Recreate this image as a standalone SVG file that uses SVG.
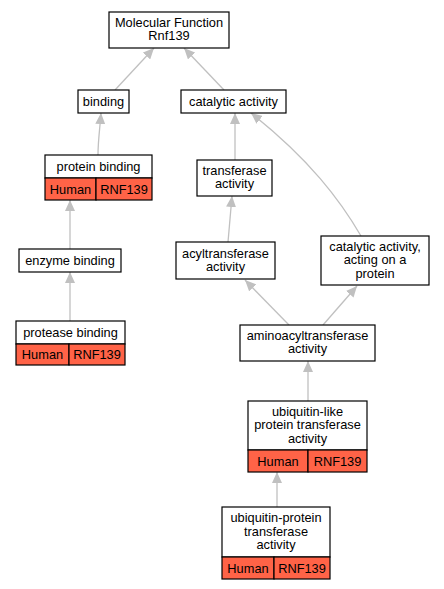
<svg xmlns="http://www.w3.org/2000/svg" width="444" height="589" viewBox="0 0 444 589">
<style>
.box{fill:#fff;stroke:#000;stroke-width:1.2}
.hit{fill:#ff6347;stroke:#000;stroke-width:1.2}
text{font-family:"Liberation Sans",Arial,sans-serif;font-size:12.8px;fill:#000;text-anchor:middle}
.edge{fill:none;stroke:#c0c0c0;stroke-width:1.3;marker-end:url(#ah)}
</style>
<defs>
<marker id="ah" markerUnits="userSpaceOnUse" markerWidth="11" markerHeight="10" refX="11" refY="5" orient="auto">
<path d="M0,0 L11,5 L0,10 z" fill="#c0c0c0"/>
</marker>
</defs>
<rect width="444" height="589" fill="#fff"/>
<g id="edges">
<path class="edge" d="M115,90 L154,48"/>
<path class="edge" d="M224,90 L184,48"/>
<path class="edge" d="M98,155 C98,140 100,128 101,113"/>
<path class="edge" d="M235,160 L235,113"/>
<path class="edge" d="M361,236 C340,200 310,160 251,113"/>
<path class="edge" d="M70,249 L70,200"/>
<path class="edge" d="M70,321 L70,272"/>
<path class="edge" d="M228,242 L232,196"/>
<path class="edge" d="M289,325 L245,280"/>
<path class="edge" d="M323,325 L357,286"/>
<path class="edge" d="M308,401 L308,361"/>
<path class="edge" d="M277,507 L277,472"/>
</g>
<g id="mf">
<rect class="box" x="109" y="12" width="120" height="36"/>
<text x="169" y="26.5">Molecular Function</text>
<text x="169" y="39.5">Rnf139</text>
</g>
<g id="binding">
<rect class="box" x="78" y="90" width="51" height="23"/>
<text x="103.5" y="106">binding</text>
</g>
<g id="catalytic">
<rect class="box" x="181" y="90" width="105" height="23"/>
<text x="233.5" y="106">catalytic activity</text>
</g>
<g id="protein_binding">
<rect class="box" x="45" y="155" width="107" height="23"/>
<text x="98.5" y="171">protein binding</text>
<rect class="hit" x="45" y="178" width="51" height="22"/>
<rect class="hit" x="96" y="178" width="56" height="22"/>
<text x="70.5" y="193.5">Human</text>
<text x="124" y="193.5">RNF139</text>
</g>
<g id="transferase">
<rect class="box" x="197" y="160" width="75" height="36"/>
<text x="234.5" y="175">transferase</text>
<text x="234.5" y="188">activity</text>
</g>
<g id="enzyme_binding">
<rect class="box" x="19" y="249" width="102" height="23"/>
<text x="70" y="265">enzyme binding</text>
</g>
<g id="acyltransferase">
<rect class="box" x="176" y="242" width="99" height="37"/>
<text x="225.5" y="257.5">acyltransferase</text>
<text x="225.5" y="270.5">activity</text>
</g>
<g id="catalytic_protein">
<rect class="box" x="321" y="236" width="108" height="49"/>
<text x="375" y="250.5">catalytic activity,</text>
<text x="375" y="264">acting on a</text>
<text x="375" y="277.5">protein</text>
</g>
<g id="protease_binding">
<rect class="box" x="16" y="321" width="109" height="23"/>
<text x="70.5" y="337">protease binding</text>
<rect class="hit" x="16" y="344" width="53" height="21"/>
<rect class="hit" x="69" y="344" width="56" height="21"/>
<text x="42.5" y="359">Human</text>
<text x="97" y="359">RNF139</text>
</g>
<g id="aminoacyltransferase">
<rect class="box" x="240" y="325" width="135" height="36"/>
<text x="307.5" y="340">aminoacyltransferase</text>
<text x="307.5" y="353">activity</text>
</g>
<g id="ubiquitin_like">
<rect class="box" x="248" y="401" width="119" height="49"/>
<text x="307.5" y="415.5">ubiquitin-like</text>
<text x="307.5" y="429">protein transferase</text>
<text x="307.5" y="442.5">activity</text>
<rect class="hit" x="248" y="450" width="60" height="22"/>
<rect class="hit" x="308" y="450" width="59" height="22"/>
<text x="278" y="465.5">Human</text>
<text x="337.5" y="465.5">RNF139</text>
</g>
<g id="ubiquitin_protein">
<rect class="box" x="222" y="507" width="108" height="50"/>
<text x="276" y="522">ubiquitin-protein</text>
<text x="276" y="535.5">transferase</text>
<text x="276" y="549">activity</text>
<rect class="hit" x="222" y="557" width="52" height="22"/>
<rect class="hit" x="274" y="557" width="56" height="22"/>
<text x="248" y="572.5">Human</text>
<text x="302" y="572.5">RNF139</text>
</g>
</svg>
